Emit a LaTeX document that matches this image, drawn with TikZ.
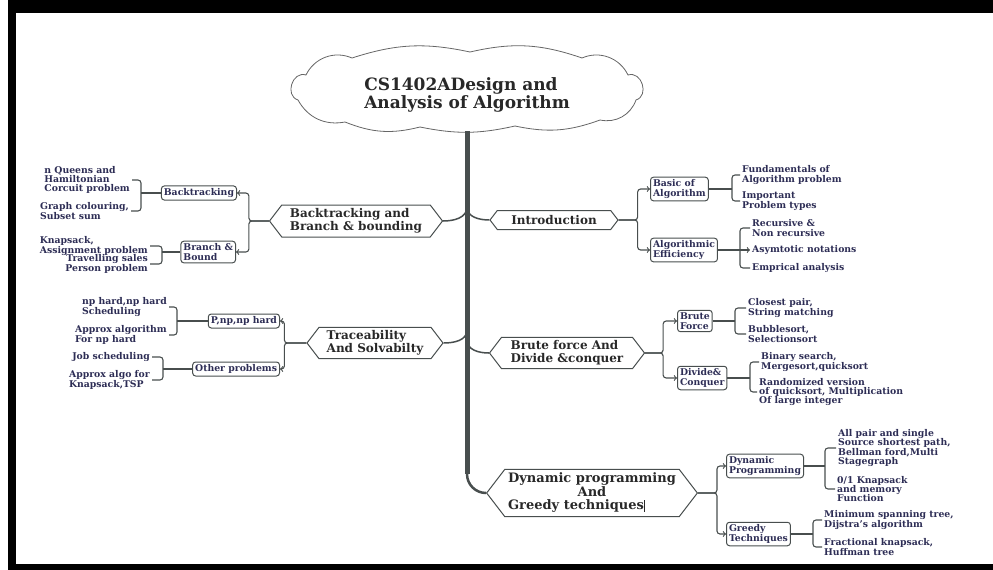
\documentclass[tikz,border=0pt]{standalone}
\usepackage{fontspec}
\setmainfont{DejaVu Serif}
\usetikzlibrary{positioning,shapes.symbols}

\definecolor{linea}{RGB}{72,78,78}
\definecolor{titulo}{RGB}{40,40,40}
\definecolor{texto}{RGB}{45,45,85}

\begin{document}
\begin{tikzpicture}[x=1pt,y=-1pt,
  nube/.style={draw=gray!80!black,line width=.8pt,fill=white},
  cabeza/.style={font=\bfseries\fontsize{17}{18}\selectfont,text=titulo,align=left},
  hexa/.style={signal,signal to=east and west,signal pointer angle=105,draw=linea,line width=1pt,fill=white,
    font=\bfseries\fontsize{12}{13}\selectfont,text=titulo,align=left},
  caja/.style={draw=linea,line width=1pt,rounded corners=3pt,font=\bfseries\fontsize{9.3}{9.5}\selectfont,text=texto,align=left,inner sep=2.5pt},
  hoja/.style={font=\bfseries\fontsize{9.3}{9.3}\selectfont,text=texto,align=left,inner sep=2pt},
  brazo/.style={draw=linea,line width=1.5pt},
  conex/.style={draw=linea,line width=1.1pt,rounded corners=3pt}
  ]
  \useasboundingbox (0,0) rectangle (993,570);
  \fill (8,0) rectangle (993,13);
  \fill (8,0) rectangle (16,570);
  \fill (8,564) rectangle (993,570);

  % nube
  \draw[nube] (298,100) to[bend left=90,looseness=1.4] (306,75) to[bend left=44] (352,58)
    to[bend left=15] (470,52) to[bend left=16] (582,58) to[bend left=44] (628,75)
    to[bend left=90,looseness=1.4] (636,100) to[bend left=41] (600,120) to[bend left=16] (515,126)
    to[bend left=12] (420,127) to[bend left=18] (345,122) to[bend left=36] cycle;
  \node[cabeza] (raiz) at (467,95) {CS1402ADesign and\\Analysis of Algorithm};
  \coordinate (nb) at (467,131);

  \node[hexa,minimum height=32pt,minimum width=173pt] (bt) at (356,221) {Backtracking and\\Branch \& bounding};
  \node[hexa,minimum height=19pt,minimum width=128pt] (intro) at (554,220) {Introduction};
  \node[hexa,minimum height=30pt,minimum width=136pt] (tr) at (375,343) {Traceability\\And Solvabilty};
  \node[hexa,minimum height=31pt,minimum width=155pt] (bf) at (567,353) {Brute force And\\Divide \&conquer};
  \node[hexa,minimum height=42pt,minimum width=202pt,font=\bfseries\fontsize{13}{12}\selectfont] (dp) at (592,493)
    {\begin{tabular}{@{}l@{}}Dynamic programming\\\multicolumn{1}{@{}c@{}}{And}\\Greedy techniques\rule[-2pt]{.7pt}{12pt}\end{tabular}};

  % ramas del tronco
  \coordinate (t1) at (467,207);
  \coordinate (t2) at (467,330);
  \coordinate (t3) at (467,340);
  \coordinate (tf) at (467,474);
  \draw[brazo] (t1) to[out=-90,in=0] (bt.east);
  \draw[brazo] (t1) to[out=-90,in=180] (intro.west);
  \draw[brazo] (t2) to[out=-90,in=0] (tr.east);
  \draw[brazo] (t3) to[out=-90,in=180] (bf.west);
  \draw[draw=linea,line width=2.5pt] (tf) to[out=-90,in=180] (dp.west);
  \draw[draw=linea,line width=5pt] (nb) -- (tf);

  % cajas
  \node[caja,anchor=west] (ba) at (650,189) {Basic of\\Algorithm};
  \node[caja,anchor=west] (ae) at (650,250) {Algorithmic\\Efficiency};
  \node[caja,anchor=west] (bru) at (677,321) {Brute\\Force};
  \node[caja,anchor=west] (dv) at (677,378) {Divide\&\\Conquer};
  \node[caja,anchor=west] (pd) at (726,466) {Dynamic\\Programming};
  \node[caja,anchor=west] (gt) at (726,534) {Greedy\\Techniques};
  \node[caja,anchor=east] (bk) at (237,193) {Backtracking};
  \node[caja,anchor=east] (bb) at (236,252) {Branch \&\\Bound};
  \node[caja,anchor=east] (pnp) at (280,321) {P,np,np hard};
  \node[caja,anchor=east] (otr) at (280,369) {Other problems};

  \draw[conex,->] (intro.east) -- ++(19,0) |- (ba.west);
  \draw[conex,->] (intro.east) -- ++(19,0) |- (ae.west);
  \draw[conex,->] (bf.east) -- ++(18,0) |- (bru.west);
  \draw[conex,->] (bf.east) -- ++(18,0) |- (dv.west);
  \draw[conex,->] (dp.east) -- ++(19,0) |- (pd.west);
  \draw[conex,->] (dp.east) -- ++(19,0) |- (gt.west);
  \draw[conex,->] (bt.west) -- ++(-20,0) |- (bk.east);
  \draw[conex,->] (bt.west) -- ++(-20,0) |- (bb.east);
  \draw[conex,->] (tr.west) -- ++(-22,0) |- (pnp.east);
  \draw[conex,->] (tr.west) -- ++(-22,0) |- (otr.east);

  % hojas
  \node[hoja,anchor=west] (ba1) at (740,175) {Fundamentals of\\Algorithm problem};
  \node[hoja,anchor=west] (ba2) at (740,201) {Important\\Problem types};
  \node[hoja,anchor=west] (ae1) at (750,228) {Recursive \&\\Non recursive};
  \node[hoja,anchor=west] (ae2) at (750,250) {Asymtotic notations};
  \node[hoja,anchor=west] (ae3) at (750,268) {Emprical analysis};
  \node[hoja,anchor=west] (bru1) at (746,308) {Closest pair,\\String matching};
  \node[hoja,anchor=west] (bru2) at (746,334) {Bubblesort,\\Selectionsort};
  \node[hoja,anchor=west] (dv1) at (759,362) {Binary search,\\Mergesort,quicksort};
  \node[hoja,anchor=west] (dv2) at (757,392) {Randomized version\\of quicksort, Multiplication\\Of large integer};
  \node[hoja,anchor=west] (pd1) at (836,448) {All pair and single\\Source shortest path,\\Bellman ford,Multi\\Stagegraph};
  \node[hoja,anchor=west] (pd2) at (835,489) {0/1 Knapsack\\and memory\\Function};
  \node[hoja,anchor=west] (gt1) at (822,520) {Minimum spanning tree,\\Dijstra's algorithm};
  \node[hoja,anchor=west] (gt2) at (822,547) {Fractional knapsack,\\Huffman tree};
  \node[hoja,anchor=east] (bk1) at (132,180) {n Queens and\\Hamiltonian\\Corcuit problem};
  \node[hoja,anchor=east] (bk2) at (131,211) {Graph colouring,\\Subset sum};
  \node[hoja,anchor=east] (bb1) at (150,246) {Knapsack,\\Assignment problem};
  \node[hoja,anchor=east,align=right] (bb2) at (150,264) {Travelling sales\\Person problem};
  \node[hoja,anchor=east] (pnp1) at (169,307) {np hard,np hard\\Scheduling};
  \node[hoja,anchor=east] (pnp2) at (169,335) {Approx algorithm\\For np hard};
  \node[hoja,anchor=east] (otr1) at (152,357) {Job scheduling};
  \node[hoja,anchor=east] (otr2) at (152,380) {Approx algo for\\Knapsack,TSP};

  % llaves
  \coordinate (kba) at (732,189);
  \coordinate (kae) at (740,250);
  \coordinate (kbru) at (735,321);
  \coordinate (kdv) at (750,378);
  \coordinate (kpd) at (825,466);
  \coordinate (kgt) at (813,534);
  \coordinate (kbk) at (141,193);
  \coordinate (kbb) at (162,252);
  \coordinate (kpnp) at (177,321);
  \coordinate (kotr) at (163,369);

  \draw[conex] (ba.east) -- (kba);
  \draw[conex] (ba1.west) -| (kba) |- (ba2.west);
  \draw[conex] (ae.east) -- (kae);
  \draw[conex] (ae1.west) -| (kae) |- (ae3.west);
  \draw[conex,->] (kae) -- (ae2.west);
  \draw[conex] (bru.east) -- (kbru);
  \draw[conex] (bru1.west) -| (kbru) |- (bru2.west);
  \draw[conex] (dv.east) -- (kdv);
  \draw[conex] (dv1.west) -| (kdv) |- (dv2.west);
  \draw[conex] (pd.east) -- (kpd);
  \draw[conex] (pd1.west) -| (kpd) |- (pd2.west);
  \draw[conex] (gt.east) -- (kgt);
  \draw[conex] (gt1.west) -| (kgt) |- (gt2.west);
  \draw[conex] (bk.west) -- (kbk);
  \draw[conex] (bk1.east) -| (kbk) |- (bk2.east);
  \draw[conex] (bb.west) -- (kbb);
  \draw[conex] (bb1.east) -| (kbb) |- (bb2.east);
  \draw[conex] (pnp.west) -- (kpnp);
  \draw[conex] (pnp1.east) -| (kpnp) |- (pnp2.east);
  \draw[conex] (otr.west) -- (kotr);
  \draw[conex] (otr1.east) -| (kotr) |- (otr2.east);

\end{tikzpicture}
\end{document}
